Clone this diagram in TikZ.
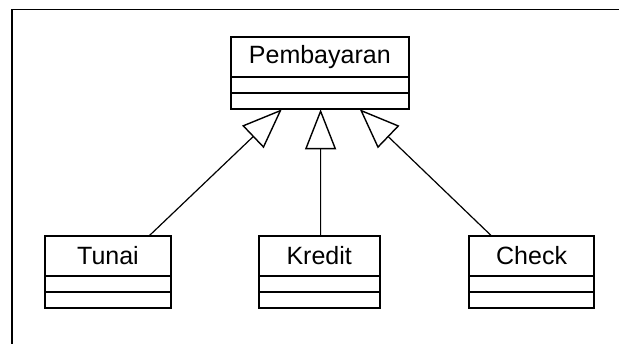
\documentclass[tikz,border=0pt]{standalone}
\usepackage{fontspec}
\setmainfont{Liberation Sans}
\usetikzlibrary{arrows.meta, positioning}

\begin{document}
\begin{tikzpicture}[x=1pt, y=-1pt,
  classname/.style={draw, line width=1.6pt, minimum height=40pt, inner sep=0pt, outer sep=0pt, font=\fontsize{25}{30}\selectfont},
  classpart/.style={draw, line width=1.6pt, minimum height=16pt, inner sep=0pt, outer sep=0pt, anchor=north},
  inherit/.style={line width=1.2pt, -{Triangle[open, length=40pt, width=31pt, line width=1.4pt]}}]
\useasboundingbox (0,0) rectangle (619,344);
\draw[line width=1.4pt] (12,344) |- (619,9.3);

\node[classname, minimum width=178pt] (bayar) at (319.8,57.3) {Pembayaran};
\node[classpart, minimum width=178pt] (bayar-a) at (bayar.south) {};
\node[classpart, minimum width=178pt] (bayar-o) at (bayar-a.south) {};

\foreach \n/\t/\x/\w/\s/\p in {tunai/Tunai/108/126/41/-38, kredit/Kredit/319.2/121/1.4/0.8, check/Check/531.6/125/-40/40}{
  \node[classname, minimum width=\w pt] (\n) at (\x,256) {\t};
  \node[classpart, minimum width=\w pt] (\n-a) at (\n.south) {};
  \node[classpart, minimum width=\w pt] (\n-o) at (\n-a.south) {};
  \draw[inherit] ([xshift=\s pt]\n.north) -- ([xshift=\p pt]bayar-o.south);
}

\end{tikzpicture}
\end{document}
